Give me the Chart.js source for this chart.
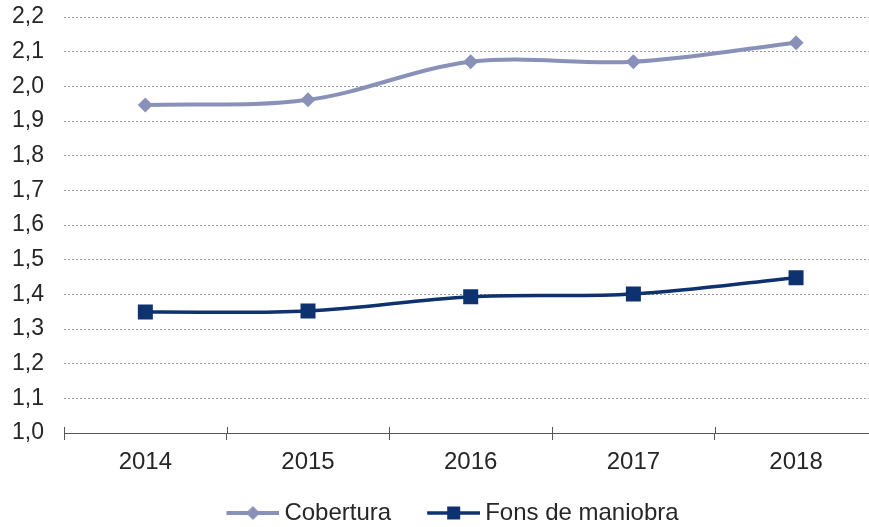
<!DOCTYPE html>
<html>
<head>
<meta charset="utf-8">
<script src="https://cdn.jsdelivr.net/npm/chart.js@4.4.1/dist/chart.umd.min.js"></script>
<style>
html,body{margin:0;padding:0;background:#fff;overflow:hidden;width:869px;height:527px;}
#wrap{position:absolute;left:0;top:0;width:888px;height:527px;}
canvas{display:block;width:888px;height:527px;}
</style>
</head>
<body>
<div id="wrap"><canvas id="c" width="888" height="527"></canvas></div>
<script>
const years = ['2014', '2015', '2016', '2017', '2018'];
const cobertura = [1.946, 1.961, 2.071, 2.071, 2.126];
const fonsManiobra = [1.349, 1.352, 1.393, 1.401, 1.448];
const seriesNames = ['Cobertura', 'Fons de maniobra'];
const yMin = 1.0, yMax = 2.2, yStep = 0.1;

const colCob = '#8991b9';
const colFons = '#0e3170';
const FONT = '"Liberation Sans", Arial, sans-serif';

function legendIcon(color, style, lw) {
  const c = document.createElement('canvas');
  c.width = 80; c.height = 20;
  const x = c.getContext('2d');
  x.strokeStyle = color; x.lineWidth = lw;
  x.beginPath(); x.moveTo(27, 10); x.lineTo(80, 10); x.stroke();
  x.fillStyle = color;
  const m = 53.5;
  x.beginPath();
  if (style === 'diamond') {
    x.moveTo(m, 3); x.lineTo(m + 7, 10); x.lineTo(m, 17); x.lineTo(m - 7, 10); x.closePath();
  } else {
    x.rect(m - 6.5, 3.5, 13, 13);
  }
  x.fill();
  return c;
}

const tickCross = {
  id: 'tickCross',
  afterDraw(chart) {
    const xs = chart.scales.x, ctx = chart.ctx;
    const y = chart.chartArea.bottom;
    ctx.save();
    ctx.strokeStyle = '#555'; ctx.lineWidth = 1;
    for (let i = 0; i <= years.length; i++) {
      const px = Math.round(xs.getPixelForValue(i - 0.5)) + 0.5;
      ctx.beginPath(); ctx.moveTo(px, y - 6); ctx.lineTo(px, y); ctx.stroke();
    }
    ctx.restore();
  }
};

new Chart(document.getElementById('c'), {
  type: 'line',
  data: {
    labels: years,
    datasets: [
      {
        label: seriesNames[0], data: cobertura,
        borderColor: colCob, backgroundColor: colCob, borderWidth: 4,
        pointStyle: 'rectRot', pointRadius: 7.5, pointHoverRadius: 7.5,
        pointBackgroundColor: colCob, pointBorderWidth: 0,
        tension: 0.35, fill: false
      },
      {
        label: seriesNames[1], data: fonsManiobra,
        borderColor: colFons, backgroundColor: colFons, borderWidth: 3.5,
        pointStyle: 'rect', pointRadius: 10.6, pointHoverRadius: 10.6,
        pointBackgroundColor: colFons, pointBorderWidth: 0,
        tension: 0.35, fill: false
      }
    ]
  },
  options: {
    responsive: false,
    animation: false,
    layout: { padding: { top: 17, right: 3, bottom: -8, left: 0 } },
    plugins: {
      tooltip: { enabled: false },
      legend: {
        position: 'bottom',
        labels: {
          usePointStyle: true,
          pointStyleWidth: 66,
          font: { family: FONT, size: 24 },
          color: '#262626',
          padding: 16,
          generateLabels(chart) {
            return [
              { text: seriesNames[0], pointStyle: legendIcon(colCob, 'diamond', 4), fillStyle: colCob, strokeStyle: colCob, lineWidth: 0, datasetIndex: 0, fontColor: '#262626' },
              { text: seriesNames[1], pointStyle: legendIcon(colFons, 'square', 3.5), fillStyle: colFons, strokeStyle: colFons, lineWidth: 0, datasetIndex: 1, fontColor: '#262626' }
            ];
          }
        }
      }
    },
    scales: {
      x: {
        offset: true,
        grid: { offset: true, drawOnChartArea: false, drawTicks: true, tickLength: 7, color: '#555' },
        border: { display: true, color: '#555', width: 1 },
        ticks: { font: { family: FONT, size: 24 }, color: '#262626', padding: 8 },
        afterFit(s) { s.height = 52; s.paddingLeft = 0; s.paddingRight = 0; }
      },
      y: {
        min: yMin, max: yMax,
        grid: { color: '#999', lineWidth: 1, drawTicks: false },
        border: { display: false, dash: [2, 2] },
        ticks: {
          stepSize: yStep, padding: 20,
          font: { family: FONT, size: 23 }, color: '#262626',
          callback: v => v.toFixed(1).replace('.', ',')
        },
        afterFit(s) { s.width = 64; s.paddingTop = 0; s.paddingBottom = 0; }
      }
    }
  },
  plugins: [tickCross]
});
</script>
</body>
</html>
